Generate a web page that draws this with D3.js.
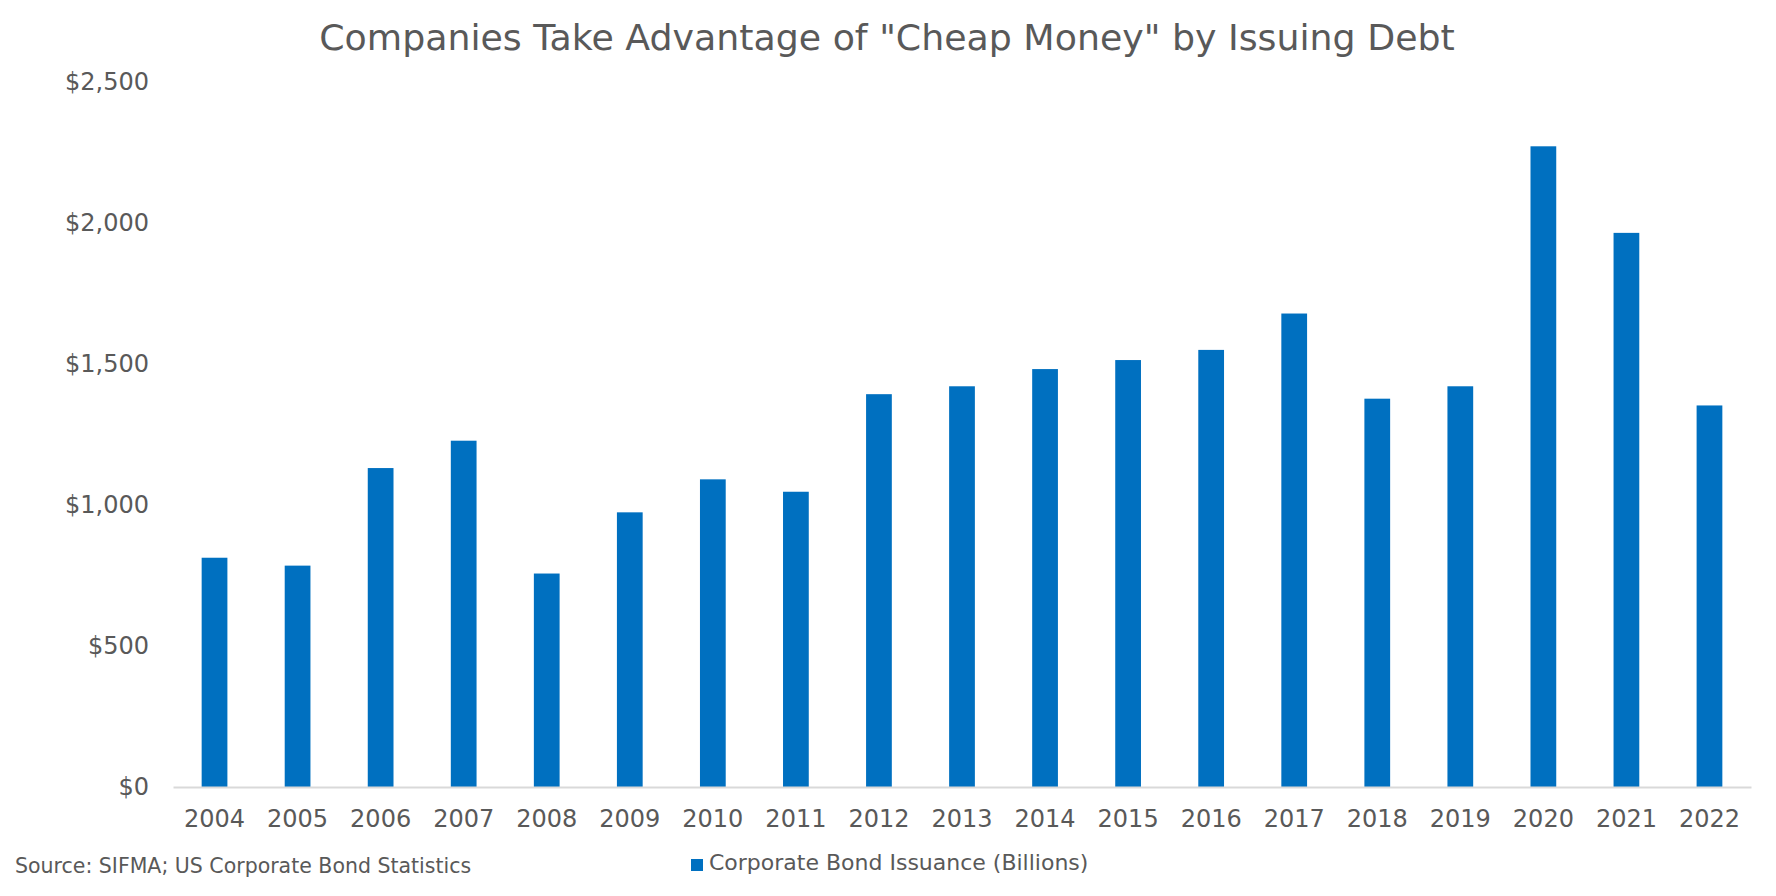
<!DOCTYPE html>
<html>
<head>
<meta charset="utf-8">
<script src="https://cdn.jsdelivr.net/npm/d3@7"></script>
<style>
  html, body { margin: 0; padding: 0; background: #fff; }
  svg { display: block; }
  text { font-family: "DejaVu Sans", Verdana, sans-serif; fill: #595959; }
</style>
</head>
<body>
<svg id="chart" width="1776" height="896"></svg>
<script>
const years = ["2004","2005","2006","2007","2008","2009","2010","2011","2012","2013","2014","2015","2016","2017","2018","2019","2020","2021","2022"];
const issuance = [813, 785, 1131, 1228, 757, 974, 1091, 1047, 1393, 1421, 1482, 1514, 1550, 1679, 1377, 1421, 2272, 1965, 1353];
const yTicks = [0, 500, 1000, 1500, 2000, 2500];
const titleText = 'Companies Take Advantage of "Cheap Money" by Issuing Debt';
const seriesName = "Corporate Bond Issuance (Billions)";
const sourceText = "Source: SIFMA; US Corporate Bond Statistics";

const svg = d3.select("#chart");
const W = 1776, H = 896;
const margin = { left: 173, right: 25, top: 82, bottom: 109 };
const x0 = margin.left, x1 = W - margin.right;
const y0 = H - margin.bottom, y1 = margin.top;

const x = d3.scaleBand().domain(years).range([x0, x1]).paddingInner(0.69).paddingOuter(0.345);
const y = d3.scaleLinear().domain([0, 2500]).range([y0, y1]);
const fmt = v => "$" + d3.format(",")(v);

// Title
svg.append("text")
  .attr("x", 887).attr("y", 50)
  .attr("text-anchor", "middle")
  .style("font-size", "36.3px")
  .text(titleText);

// Y axis
const yAxis = d3.axisLeft(y).tickValues(yTicks).tickFormat(fmt).tickSize(0).tickPadding(24);
const gy = svg.append("g").attr("transform", `translate(${x0},0)`).call(yAxis);
gy.select(".domain").remove();
gy.selectAll("text").style("font-size", "24px").attr("fill", "#595959")
  .style("font-family", '"DejaVu Sans", Verdana, sans-serif');

// Bars
svg.append("g").selectAll("rect")
  .data(years.map((yr, i) => ({ yr, v: issuance[i] })))
  .join("rect")
  .attr("x", d => x(d.yr))
  .attr("width", x.bandwidth())
  .attr("y", d => y(d.v))
  .attr("height", d => y(0) - y(d.v))
  .attr("fill", "#0070C0");

// X axis
const xAxis = d3.axisBottom(x).tickSize(0).tickPadding(23);
const gx = svg.append("g").attr("transform", `translate(0,${y0})`).call(xAxis);
gx.select(".domain").attr("stroke", "#d9d9d9").attr("stroke-width", 2);
gx.selectAll("text").style("font-size", "24px").attr("fill", "#595959")
  .style("font-family", '"DejaVu Sans", Verdana, sans-serif');

// Source
svg.append("text")
  .attr("x", 15).attr("y", 873)
  .style("font-size", "20.5px")
  .text(sourceText);

// Legend
const lg = svg.append("g").attr("transform", "translate(691,859)");
lg.append("rect").attr("x", 0).attr("y", 0).attr("width", 12).attr("height", 12).attr("fill", "#0070C0");
lg.append("text").attr("x", 18).attr("y", 11).style("font-size", "22px").text(seriesName);
</script>
</body>
</html>
